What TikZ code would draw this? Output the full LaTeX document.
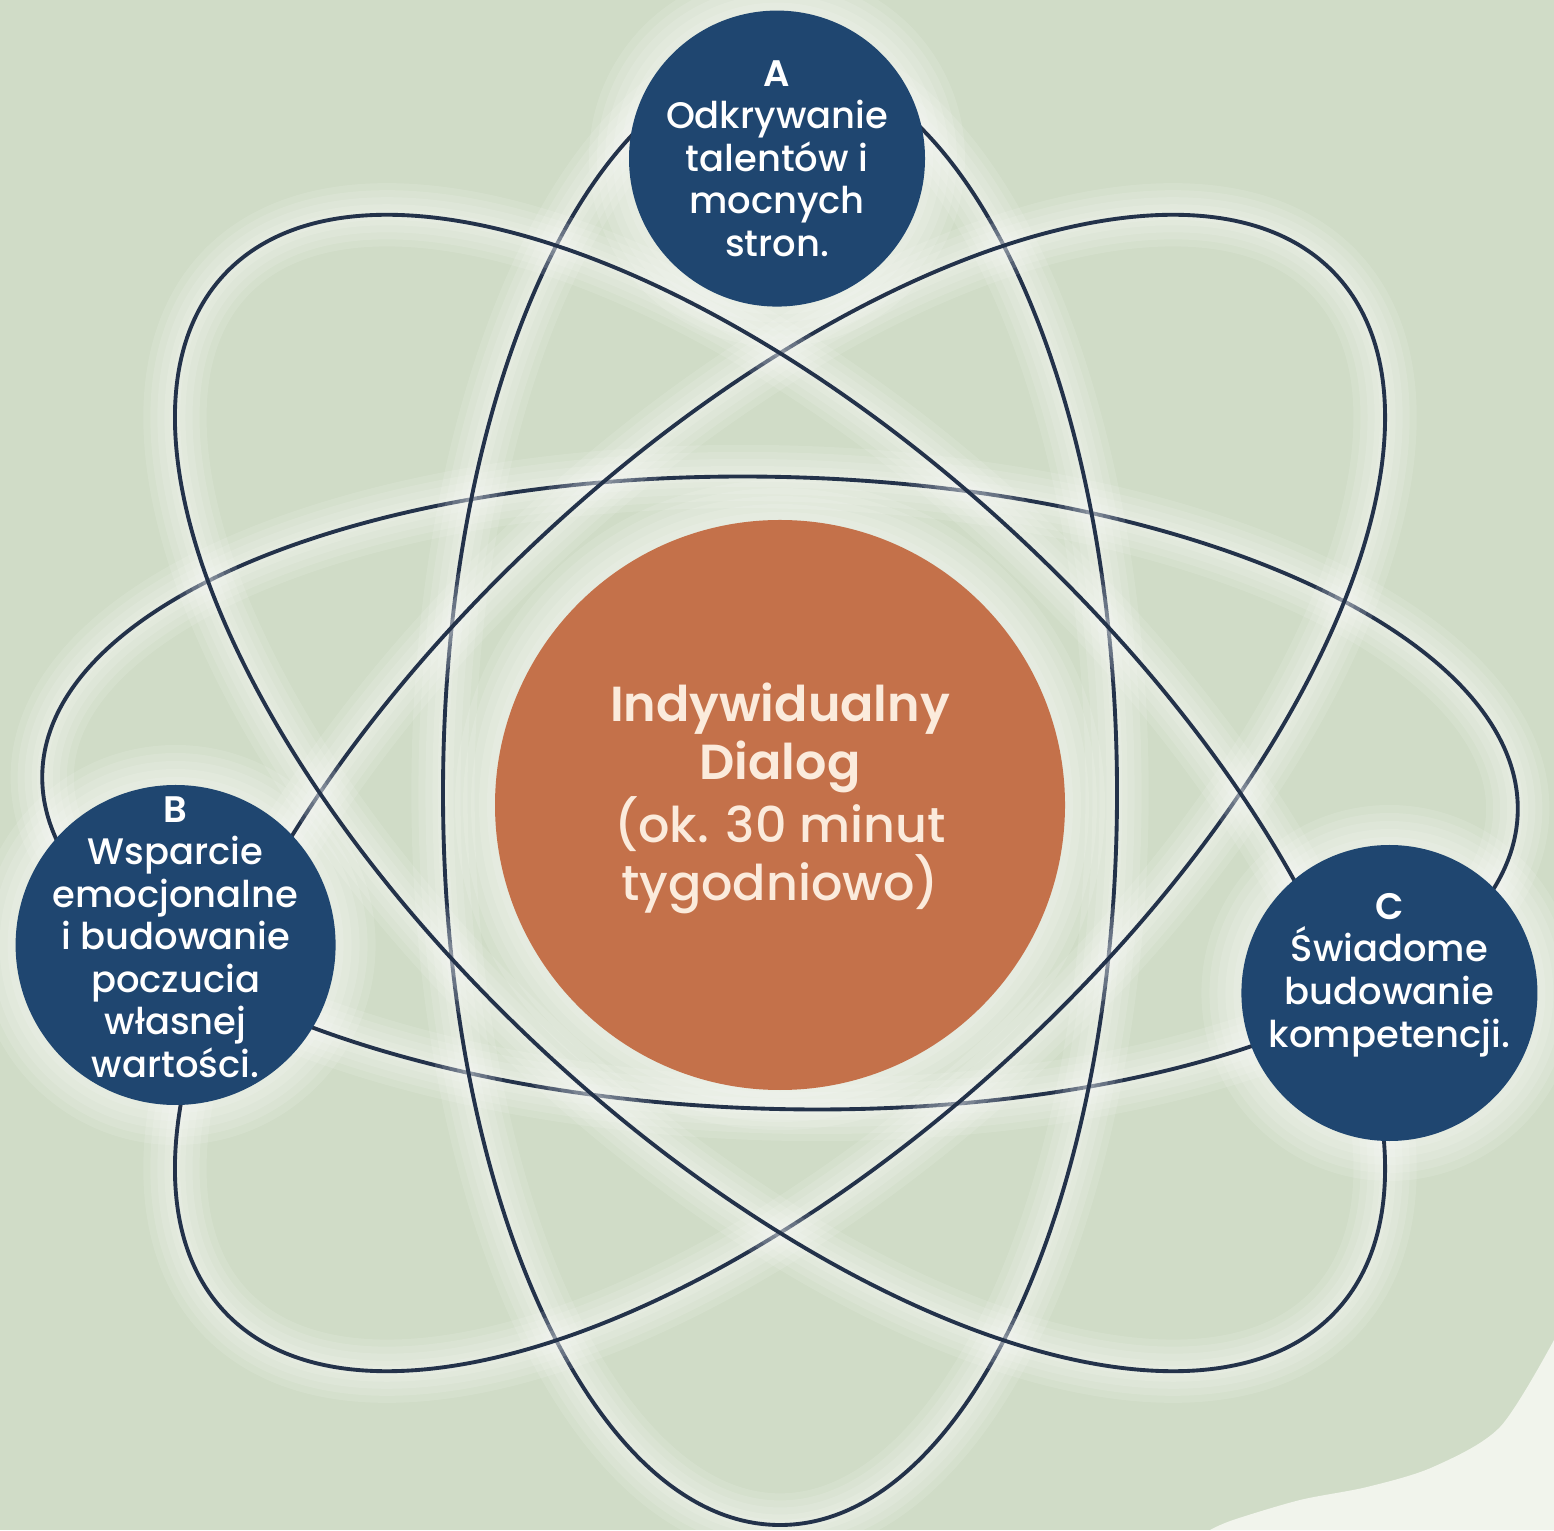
\documentclass[tikz,border=0pt]{standalone}
\usepackage{fontspec}
\setmainfont{Poppins}[UprightFont=* Medium, BoldFont=* SemiBold]
\usetikzlibrary{positioning}
\pgfdeclarelayer{background}
\pgfsetlayers{background,main}
\definecolor{sage}{HTML}{D0DCC7}
\definecolor{paper}{HTML}{F1F4EC}
\definecolor{navy}{HTML}{1F4670}
\definecolor{ink}{HTML}{23324A}
\definecolor{rust}{HTML}{C4714A}
\definecolor{cream}{HTML}{FBEBDC}

\begin{document}
\begin{tikzpicture}[every node/.style={inner sep=0cm, align=center, text centered},
    topic/.style={circle, fill=navy, minimum size=2.96cm},
    topictext/.style={text=white, font=\fontsize{10.5}{12.1}\selectfont},
    hub/.style={circle, fill=rust, minimum size=5.7cm},
    hubtext/.style={text=cream, font=\fontsize{14}{16.5}\selectfont},
    orbit/.style={draw=ink, line width=1.1pt},
    orbitglow/.style={draw=white, opacity=0.12},
    halo/.style={fill=white, opacity=0.12}]
    \useasboundingbox (0,0) rectangle (15.54,15.30);

    \node (dialog) [hub] at (7.80,7.25){};
    \node (dialogtext) [hubtext, yshift=0.07cm] at (dialog){
        \textbf{Indywidualny} \\ \textbf{Dialog} \\ (ok. 30 minut \\ tygodniowo)
    };
    \node (talents) [above=2.12cm of dialog, xshift=-0.03cm, topic]{};
    \node (talentstext) [topictext] at (talents){
        \textbf{A} \\ Odkrywanie \\ talentów i \\ mocnych \\ stron.
    };
    \node (support) [left=1.58cm of dialog, yshift=-1.40cm, topic, minimum size=3.2cm]{};
    \node (supporttext) [topictext, yshift=0.08cm] at (support){
        \textbf{B} \\ Wsparcie \\ emocjonalne \\ i budowanie \\ poczucia \\ własnej \\ wartości.
    };
    \node (skills) [right=1.75cm of dialog, yshift=-1.88cm, topic]{};
    \node (skillstext) [topictext, yshift=0.18cm] at (skills){
        \textbf{C} \\ Świadome \\ budowanie \\ kompetencji.
    };
    \coordinate (core) at (7.80,7.37);

    \begin{pgfonlayer}{background}
        \fill[sage] (0,0) rectangle (15.54,15.30);
        \fill[paper] plot[smooth] coordinates {(12.10,0) (12.33,0.10) (13.00,0.30) (13.67,0.43) (14.33,0.63) (15.00,1.03) (15.54,1.90)} -- (15.54,0) -- cycle;
        \foreach \n/\r in {dialog/2.85, talents/1.48, support/1.60, skills/1.48}
            \foreach \g in {0.40,0.32,0.24,0.16,0.08}
                \fill[halo] (\n.center) circle (\r+\g);
        \foreach \ang/\rx/\ry in {-1.5/7.38/3.16, 90/7.32/3.37, 43/7.60/3.50, -43/7.60/3.50}{
            \foreach \w in {18pt,14pt,10pt,6pt,3pt}
                \draw[orbitglow, line width=\w] (core) ellipse [x radius=\rx cm, y radius=\ry cm, rotate=\ang];
            \draw[orbit] (core) ellipse [x radius=\rx cm, y radius=\ry cm, rotate=\ang];
        }
    \end{pgfonlayer}
\end{tikzpicture}
\end{document}
